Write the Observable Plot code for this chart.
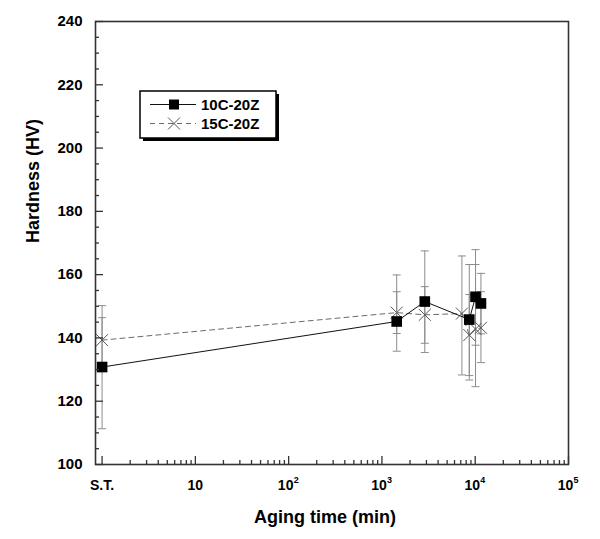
<!DOCTYPE html>
<html>
<head>
<meta charset="utf-8">
<script src="https://cdn.jsdelivr.net/npm/d3@7"></script>
<script src="https://cdn.jsdelivr.net/npm/@observablehq/plot@0.6"></script>
<style>
  html, body { margin: 0; padding: 0; background: #fff; }
  svg { display: block; }
</style>
</head>
<body>
<div id="chart"></div>
<script>
// ---- data (aging time in minutes; S.T. = solution treated, plotted at 1) ----
const times10 = [1, 1440, 2880, 8640, 10080, 11520];
const hv10    = [130.8, 145.2, 151.5, 145.8, 153.0, 150.9];
const lo10    = [111.3, 135.8, 135.4, 126.7, 137.7, 141.3];
const hi10    = [150.2, 159.9, 167.5, 163.2, 167.9, 160.4];

const times15 = [1, 1440, 2880, 7200, 8640, 10080, 11520];
const hv15    = [139.3, 148.0, 147.3, 147.7, 140.9, 142.8, 143.2];
const lo15    = [132.2, 141.4, 138.3, 128.3, 128.1, 124.6, 132.2];
const hi15    = [146.4, 154.6, 156.2, 165.9, 153.7, 163.2, 154.6];

const seriesNames = ["10C-20Z", "15C-20Z"];

// tick labels
const xPlainTicks = [1, 10];
const xPlainLabels = ["S.T.", "10"];
const xPowTicks = [100, 1000, 10000, 100000];
const xPowBase = ["10", "10", "10", "10"];
const xPowExp = ["2", "3", "4", "5"];
const yMajor = [100, 120, 140, 160, 180, 200, 220, 240];
const xTitle = "Aging time (min)";
const yTitle = "Hardness (HV)";

// ---- derived tables ----
const d10 = times10.map((t, i) => ({t, v: hv10[i], lo: lo10[i], hi: hi10[i]}));
const d15 = times15.map((t, i) => ({t, v: hv15[i], lo: lo15[i], hi: hi15[i]}));
const xMajor = [...xPlainTicks, ...xPowTicks];
const xMinor = [];
for (let e = 0; e < 5; e++) for (let m = 2; m <= 9; m++) xMinor.push(m * Math.pow(10, e));
const yMinor = d3.range(105, 240, 5).filter(v => v % 20 !== 0);

const capSymbol = {
  draw(ctx, size) {
    const w = Math.sqrt(size / Math.PI);
    ctx.moveTo(-w, 0);
    ctx.lineTo(w, 0);
  }
};

const font = "'Liberation Sans', Arial, Helvetica, sans-serif";
const errColor = "#8c8c8c";

const plot = Plot.plot({
  width: 600,
  height: 539,
  marginLeft: 95,
  marginRight: 32,
  marginTop: 21,
  marginBottom: 75,
  x: {type: "log", domain: [0.85, 1e5], axis: null},
  y: {domain: [100, 240], axis: null},
  style: {fontFamily: font, background: "#fff", color: "#000"},
  marks: [
    // error bars
    Plot.ruleX(d15, {x: "t", y1: "lo", y2: "hi", stroke: errColor, strokeWidth: 1}),
    Plot.dot(d15, {x: "t", y: "lo", symbol: capSymbol, r: 4, fill: "none", stroke: errColor, strokeWidth: 1}),
    Plot.dot(d15, {x: "t", y: "hi", symbol: capSymbol, r: 4, fill: "none", stroke: errColor, strokeWidth: 1}),
    Plot.ruleX(d10, {x: "t", y1: "lo", y2: "hi", stroke: errColor, strokeWidth: 1}),
    Plot.dot(d10, {x: "t", y: "lo", symbol: capSymbol, r: 4, fill: "none", stroke: errColor, strokeWidth: 1}),
    Plot.dot(d10, {x: "t", y: "hi", symbol: capSymbol, r: 4, fill: "none", stroke: errColor, strokeWidth: 1}),
    // lines
    Plot.line(d15, {x: "t", y: "v", stroke: "#6a6a6a", strokeWidth: 1, strokeDasharray: "5,4"}),
    Plot.line(d10, {x: "t", y: "v", stroke: "#111", strokeWidth: 1}),
    // markers
    Plot.dot(d15, {x: "t", y: "v", symbol: "times", r: 5.5, fill: "none", stroke: "#555", strokeWidth: 1}),
    Plot.dot(d10, {x: "t", y: "v", symbol: "square", r: 6, fill: "#000", stroke: "none"}),
    // frame
    Plot.frame({stroke: "#333", strokeWidth: 1.6}),
    // inward ticks
    Plot.axisX({ticks: xMajor, anchor: "bottom", tickSize: -8, fill: "none", label: null, stroke: "#333", strokeWidth: 1.3}),
    Plot.axisX({ticks: xMinor, anchor: "bottom", tickSize: -4, fill: "none", label: null, stroke: "#333", strokeWidth: 1.3}),
    Plot.axisY({ticks: yMajor, anchor: "left", tickSize: -8, fill: "none", label: null, stroke: "#333", strokeWidth: 1.3}),
    Plot.axisY({ticks: yMinor, anchor: "left", tickSize: -4, fill: "none", label: null, stroke: "#333", strokeWidth: 1.3}),
    // tick labels
    Plot.text(yMajor, {y: d => d, text: d => String(d), frameAnchor: "left", dx: -13, textAnchor: "end", fontSize: 15, fontWeight: "bold", fill: "#000"}),
    Plot.text(xPlainTicks, {x: d => d, text: (d, i) => xPlainLabels[i], frameAnchor: "bottom", dy: 25, fontSize: 14, fontWeight: "bold", fill: "#000"}),
    Plot.text(xPowTicks, {x: d => d, text: (d, i) => xPowBase[i], frameAnchor: "bottom", dy: 25, dx: -3, fontSize: 14, fontWeight: "bold", fill: "#000"}),
    Plot.text(xPowTicks, {x: d => d, text: (d, i) => xPowExp[i], frameAnchor: "bottom", dy: 18, dx: 5, textAnchor: "start", fontSize: 9, fontWeight: "bold", fill: "#000"}),
    // axis titles
    Plot.text([xTitle], {text: d => d, frameAnchor: "bottom", dy: 58, dx: -7, fontSize: 18, fontWeight: "bold", fill: "#000"}),
    Plot.text([yTitle], {text: d => d, frameAnchor: "left", dx: -62, rotate: -90, fontSize: 18, fontWeight: "bold", fill: "#000"})
  ]
});

// ---- legend ----
const svg = d3.select(plot);
const lg = svg.append("g").attr("font-family", font).attr("text-anchor", "start");
lg.append("rect").attr("x", 143).attr("y", 94).attr("width", 136).attr("height", 47).attr("fill", "#000");
lg.append("rect").attr("x", 140).attr("y", 91).attr("width", 136).attr("height", 47)
  .attr("fill", "#fff").attr("stroke", "#000").attr("stroke-width", 1.5);
const rows = [104.5, 123.5];
// 10C row
lg.append("line").attr("x1", 150).attr("x2", 196).attr("y1", rows[0]).attr("y2", rows[0]).attr("stroke", "#111");
lg.append("path").attr("d", d3.symbol(d3.symbolSquare, 100)()).attr("transform", `translate(174,${rows[0]})`).attr("fill", "#000");
lg.append("text").attr("x", 201).attr("y", rows[0]).attr("dy", "0.35em").attr("font-size", 15).attr("font-weight", "bold").attr("text-anchor", "start").text(seriesNames[0]);
// 15C row
lg.append("line").attr("x1", 150).attr("x2", 196).attr("y1", rows[1]).attr("y2", rows[1]).attr("stroke", "#6a6a6a").attr("stroke-dasharray", "5,4");
lg.append("path").attr("d", d3.symbol(d3.symbolTimes, 95)()).attr("transform", `translate(174,${rows[1]})`).attr("fill", "none").attr("stroke", "#555");
lg.append("text").attr("x", 201).attr("y", rows[1]).attr("dy", "0.35em").attr("font-size", 15).attr("font-weight", "bold").attr("text-anchor", "start").text(seriesNames[1]);

document.getElementById("chart").appendChild(plot);
</script>
</body>
</html>
